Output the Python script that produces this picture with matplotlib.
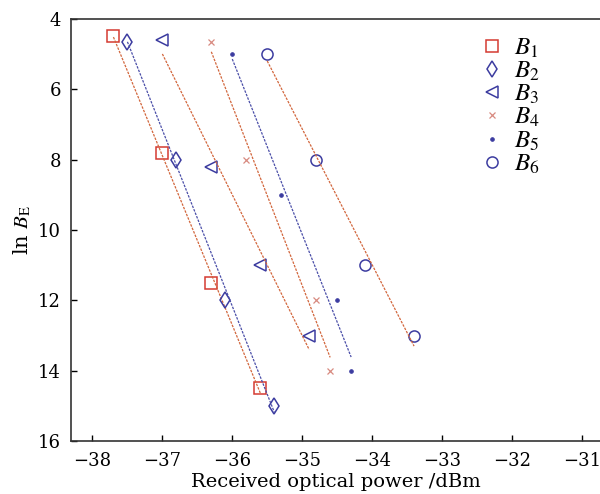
import numpy as np
import matplotlib
matplotlib.use('Agg')
import matplotlib.pyplot as plt

plt.rcParams['font.family'] = 'DejaVu Serif'
plt.rcParams['mathtext.fontset'] = 'stix'

# received optical power (dBm) and ln(B_E) for each series
x_b1 = [-37.7, -37.0, -36.3, -35.6]
y_b1 = [4.5, 7.8, 11.5, 14.5]
x_b2 = [-37.5, -36.8, -36.1, -35.4]
y_b2 = [4.65, 8.0, 12.0, 15.0]
x_b3 = [-37.0, -36.3, -35.6, -34.9]
y_b3 = [4.6, 8.2, 11.0, 13.0]
x_b4 = [-36.3, -35.8, -34.8, -34.6]
y_b4 = [4.65, 8.0, 12.0, 14.0]
x_b5 = [-36.0, -35.3, -34.5, -34.3]
y_b5 = [5.0, 9.0, 12.0, 14.0]
x_b6 = [-35.5, -34.8, -34.1, -33.4]
y_b6 = [5.0, 8.0, 11.0, 13.0]

labels = ['$B_1$', '$B_2$', '$B_3$', '$B_4$', '$B_5$', '$B_6$']
xs = [x_b1, x_b2, x_b3, x_b4, x_b5, x_b6]
ys = [y_b1, y_b2, y_b3, y_b4, y_b5, y_b6]

red = '#d43a32'
blue = '#3c3ca0'
styles = [
    dict(marker='s', ms=8.5, mec=red, mfc='none', mew=1.1),
    dict(marker='d', ms=8.5, mec=blue, mfc='none', mew=1.1),
    dict(marker='<', ms=9, mec=blue, mfc='none', mew=1.1),
    dict(marker='x', ms=4, mec='#d88a80', mfc='none', mew=0.9),
    dict(marker='.', ms=5, mec=blue, mfc=blue, mew=0.8),
    dict(marker='o', ms=8, mec=blue, mfc='none', mew=1.1),
]
line_colors = ['#d2663c', '#4a4ea8', '#d2663c', '#d2663c', '#4a4ea8', '#d2663c']

fig = plt.figure(figsize=(6, 4.94), dpi=100)
ax = fig.add_axes([0.118, 0.107, 0.882, 0.855])

for x, y, lab, st, lc in zip(xs, ys, labels, styles, line_colors):
    ax.plot(x, y, linestyle='none', label=lab, **st)
    a, b = np.polyfit(x, y, 1)
    xx = np.array([min(x), max(x)])
    ax.plot(xx, a * xx + b, color=lc, lw=0.9, linestyle=(0, (2, 1)))

ax.set_xlim(-38.31, -30.74)
ax.set_ylim(16, 4)
ax.set_xticks(np.arange(-38, -30, 1))
ax.set_yticks(np.arange(4, 17, 2))
ax.set_xticklabels(['\u2212%d' % abs(v) for v in range(-38, -30)])
ax.tick_params(direction='in', labelsize=13, length=4, width=1)
ax.tick_params(axis='x', pad=8)
ax.tick_params(axis='y', pad=7)
ax.spines['right'].set_visible(False)
for s in ['left', 'bottom', 'top']:
    ax.spines[s].set_linewidth(1.2)
    ax.spines[s].set_color('#333333')

ax.set_xlabel('Received optical power /dBm', fontsize=14, labelpad=2)
ax.set_ylabel(r'ln $B_{\rm E}$', fontsize=15, labelpad=4)

ax.legend(loc='upper right', bbox_to_anchor=(0.92, 1.0), frameon=False, fontsize=18,
          handletextpad=0.1, handlelength=1.6, labelspacing=0.0, borderaxespad=0.3)

fig.savefig('out.png', dpi=100)
